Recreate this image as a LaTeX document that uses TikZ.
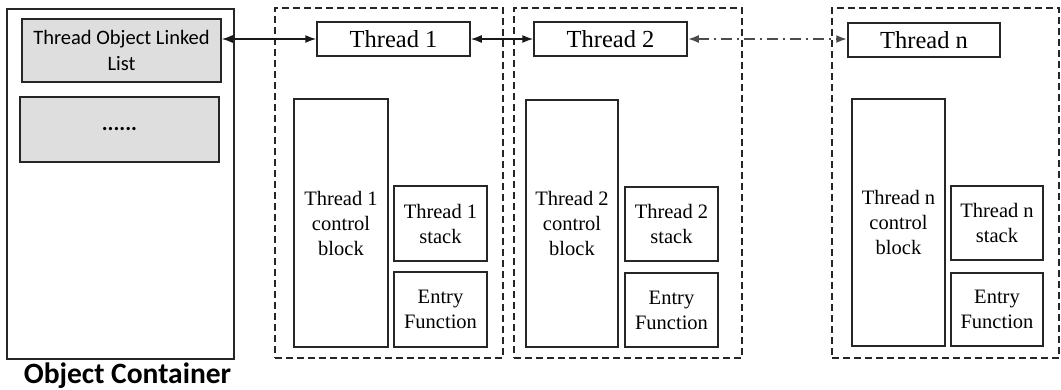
\documentclass[tikz,border=0pt]{standalone}
\usepackage{fontspec}
\setmainfont{Liberation Serif}
\newfontfamily\calib{Carlito}
\usetikzlibrary{arrows.meta}
\tikzset{
  box/.style={draw=black!85, line width=1.5pt, inner sep=0pt, align=center, text=black},
  greybox/.style={box, fill=black!13},
  grp/.style={draw=black!85, line width=1.2pt, dash pattern=on 7pt off 4pt, inner sep=0pt},
  hdr/.style={box, font=\fontsize{24.5}{28}\selectfont},
  inner/.style={box, font=\fontsize{20.5}{25}\selectfont},
  link/.style={line width=1.5pt, black!90, {Latex[length=11pt,width=8pt]}-{Latex[length=11pt,width=8pt]}},
  dlink/.style={line width=2pt, black!70, dash pattern=on 11pt off 5pt on 2pt off 5pt, {Latex[length=11pt,width=8pt]}-{Latex[length=11pt,width=8pt]}}
}
\begin{document}
\begin{tikzpicture}[x=1pt,y=-1pt]
\useasboundingbox (0,0) rectangle (1061,389);
% object container
\node[box, minimum width=227, minimum height=350] (oc) at (120.5,184) {};
\node[greybox, minimum width=199, minimum height=63, font=\calib\fontsize{20.5}{26}\selectfont] (ll) at (121.5,50.5) {Thread Object Linked\\List};
\node[greybox, minimum width=199, minimum height=65, font=\calib\bfseries\fontsize{22}{22}\selectfont] (dots) at (119.5,129.5) {......};
\node[anchor=base, inner sep=0pt, font=\calib\bfseries\fontsize{29.5}{30}\selectfont, text=black] (ocl) at (127.5,383) {Object Container};
% group 1
\node[grp, minimum width=228, minimum height=350] (g1) at (389,183) {};
\node[hdr, minimum width=153, minimum height=34] (t1) at (393.5,39) {Thread 1};
\node[inner, minimum width=94, minimum height=248] (cb1) at (341,223) {Thread 1\\control\\block};
\node[inner, minimum width=93, minimum height=75] (s1) at (440.5,223.5) {Thread 1\\stack};
\node[inner, minimum width=93, minimum height=75] (e1) at (440.5,309.5) {Entry\\Function};
% group 2
\node[grp, minimum width=228, minimum height=350] (g2) at (628,183) {};
\node[hdr, minimum width=153, minimum height=34] (t2) at (610.5,39) {Thread 2};
\node[inner, minimum width=92, minimum height=247] (cb2) at (572,223.5) {Thread 2\\control\\block};
\node[inner, minimum width=93, minimum height=74] (s2) at (671.5,224) {Thread 2\\stack};
\node[inner, minimum width=93, minimum height=74] (e2) at (671.5,310) {Entry\\Function};
% group n
\node[grp, minimum width=227, minimum height=350] (gn) at (945.5,183) {};
\node[hdr, minimum width=152, minimum height=34] (tn) at (924,40) {Thread n};
\node[inner, minimum width=93, minimum height=247] (cbn) at (898.5,222.5) {Thread n\\control\\block};
\node[inner, minimum width=92, minimum height=74] (sn) at (997,223) {Thread n\\stack};
\node[inner, minimum width=92, minimum height=73] (en) at (997,309.5) {Entry\\Function};
% connectors
\draw[link] (t1.west -| ll.east) -- (t1.west);
\draw[link] (t1.east) -- (t1.east -| t2.west);
\draw[dlink] (t2.east) -- (t2.east -| tn.west);
\end{tikzpicture}
\end{document}
